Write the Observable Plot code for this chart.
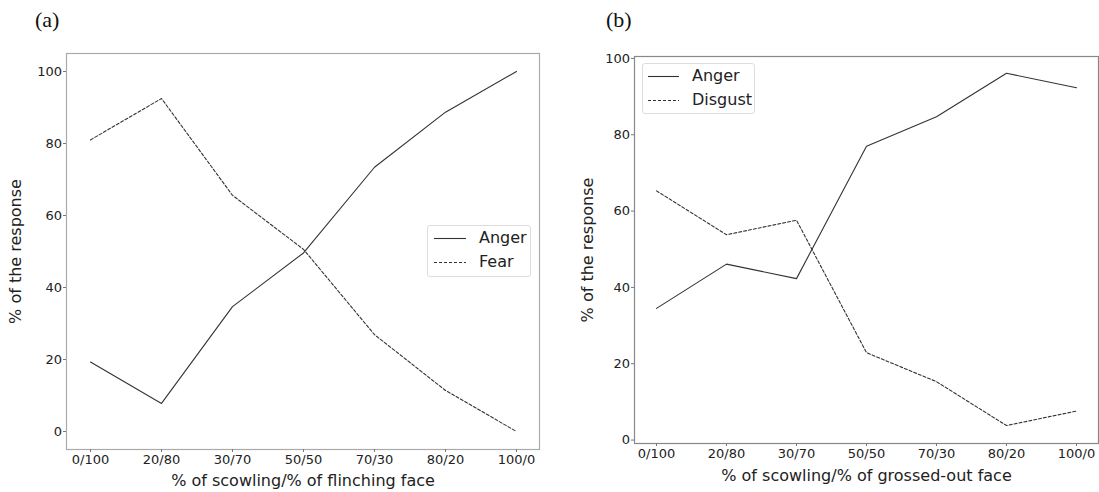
<!DOCTYPE html>
<html>
<head>
<meta charset="utf-8">
<script src="https://cdn.jsdelivr.net/npm/d3@7"></script>
<script src="https://cdn.jsdelivr.net/npm/@observablehq/plot@0.6"></script>
<style>
  html, body { margin: 0; padding: 0; background: #fff; }
  #page { position: relative; width: 1099px; height: 492px; overflow: hidden; font-family: "DejaVu Sans", sans-serif; color: #222; }
  .panel { position: absolute; top: 0; }
  .tag { position: absolute; font-family: "Liberation Serif", serif; font-size: 22px; line-height: 1; color: #111; }
  .legend { position: absolute; border: 1px solid #ddd; border-radius: 3px; background: rgba(255,255,255,0.85); box-sizing: border-box; }
  .legend .entry { position: absolute; height: 20px; font-size: 16px; line-height: 20px; white-space: nowrap; color: #222; }
  .legend svg { position: absolute; top: 0; left: 0; }
  g[aria-label="x-axis label"], g[aria-label="y-axis label"] { font-size: 16px; }
</style>
</head>
<body>
<div id="page"></div>
<script>
// ---- data ----
const categories = ["0/100", "20/80", "30/70", "50/50", "70/30", "80/20", "100/0"];
const yTicks = [0, 20, 40, 60, 80, 100];

const seriesNamesA = ["Anger", "Fear"];
const angerA = [19.3, 7.8, 34.7, 49.6, 73.4, 88.7, 100];
const fearA = [81.0, 92.5, 65.6, 50.6, 26.9, 11.4, 0];

const seriesNamesB = ["Anger", "Disgust"];
const angerB = [34.5, 46.1, 42.3, 77.0, 84.7, 96.1, 92.3];
const disgustB = [65.3, 53.8, 57.6, 22.9, 15.3, 3.8, 7.6];

const xLabelA = "% of scowling/% of flinching face";
const xLabelB = "% of scowling/% of grossed-out face";
const yLabel = "% of the response";
const tagA = "(a)";
const tagB = "(b)";

// ---- helpers ----
const lineColor = "#333";
const dashes = [null, "3,2"];

function toRows(names, arrays) {
  const rows = [];
  names.forEach((name, i) => {
    arrays[i].forEach((v, j) => rows.push({series: name, cat: categories[j], value: v}));
  });
  return rows;
}

function panel({names, arrays, xLabel, width, height, margins, yDomain, frameColor, yLabelOffset, xLabelOffset}) {
  const rows = toRows(names, arrays);
  return Plot.plot({
    width, height,
    marginLeft: margins[0], marginRight: margins[1], marginTop: margins[2], marginBottom: margins[3],
    style: {fontFamily: "DejaVu Sans, sans-serif", fontSize: "13px", color: "#222", background: "white", overflow: "visible"},
    x: {type: "point", domain: categories, padding: 0.3},
    y: {domain: yDomain},
    marks: [
      Plot.frame({stroke: frameColor, strokeWidth: 1.2}),
      Plot.axisY({ticks: yTicks, tickFormat: d => String(d), tickSize: 3, tickPadding: 1.5, stroke: "#777",
                  label: yLabel, labelArrow: "none", labelAnchor: "center", labelOffset: yLabelOffset}),
      Plot.axisX({tickSize: 3, tickPadding: 2, stroke: "#777",
                  label: xLabel, labelArrow: "none", labelAnchor: "center", labelOffset: xLabelOffset}),
      ...names.map((name, i) => Plot.line(rows.filter(r => r.series === name), {
        x: "cat", y: "value", stroke: lineColor, strokeWidth: 1.1,
        strokeDasharray: dashes[i] || undefined
      }))
    ]
  });
}

function legend(parent, names, left, top, w, h, lineX1, lineX2, textLeft) {
  const box = d3.select(parent).append("div").attr("class", "legend")
    .style("left", left + "px").style("top", top + "px")
    .style("width", w + "px").style("height", h + "px");
  names.forEach((name, i) => {
    const e = box.append("div").attr("class", "entry")
      .style("left", "0px").style("top", (2 + i * 24) + "px").style("width", (w - 2) + "px");
    const s = e.append("svg").attr("width", textLeft).attr("height", 20);
    s.append("line").attr("x1", lineX1).attr("x2", lineX2).attr("y1", 10.5).attr("y2", 10.5)
      .attr("stroke", lineColor).attr("stroke-width", 1.1)
      .attr("stroke-dasharray", dashes[i] || null);
    e.append("span").style("position", "absolute").style("left", textLeft + "px").text(name);
  });
}

const page = document.getElementById("page");

// panel (a)
const divA = d3.select(page).append("div").attr("class", "panel").style("left", "0px").node();
divA.appendChild(panel({
  names: seriesNamesA, arrays: [angerA, fearA], xLabel: xLabelA,
  width: 550, height: 492, margins: [66, 11, 53, 43], yDomain: [-5, 105],
  frameColor: "#aaa", yLabelOffset: 57, xLabelOffset: 36.5
}));
legend(page, seriesNamesA, 427, 225, 104, 52, 6, 38, 51);

// panel (b)
const divB = d3.select(page).append("div").attr("class", "panel").style("left", "550px").node();
divB.appendChild(panel({
  names: seriesNamesB, arrays: [angerB, disgustB], xLabel: xLabelB,
  width: 549, height: 492, margins: [84, 1, 56, 49], yDomain: [-0.9, 100.5],
  frameColor: "#888", yLabelOffset: 53, xLabelOffset: 37.5
}));
legend(page, seriesNamesB, 642, 63, 113, 51, 5, 36, 49);

// tags
d3.select(page).append("div").attr("class", "tag").style("left", "35px").style("top", "9px").text(tagA);
d3.select(page).append("div").attr("class", "tag").style("left", "606px").style("top", "9px").text(tagB);
</script>
</body>
</html>
